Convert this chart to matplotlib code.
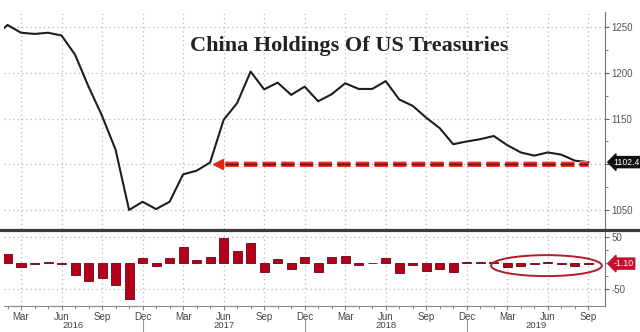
import numpy as np
import pandas as pd
import matplotlib
matplotlib.use("Agg")
import matplotlib.pyplot as plt
import matplotlib.transforms as mtransforms
import matplotlib.patheffects as pe
from matplotlib.lines import Line2D
from matplotlib.patches import Ellipse

# China holdings of US Treasuries, $bn, month-end, Jan 2016 .. Sep 2019
holdings = [1239,
            1252.5, 1244, 1242.7, 1244, 1241, 1220, 1185, 1153, 1116, 1050, 1059,
            1051, 1059, 1089, 1093, 1102, 1148.6, 1167, 1201.5, 1182, 1189.4, 1176, 1185,
            1169, 1176.7, 1188.7, 1182.5, 1182.5, 1191, 1171, 1164, 1151, 1139.6, 1122, 1125,
            1127.5, 1131, 1121, 1113, 1109.5, 1113, 1110.6, 1104, 1102.4]

# month-on-month change, $bn, Feb 2016 .. Sep 2019
change = [17, -7, -1.3, 1.3, -2, -22, -35, -28.6, -42, -68, 9.5,
          -5, 9.5, 31, 5, 11, 47.6, 22, 37.5, -18, 8, -12, 11,
          -16.5, 11, 13, -4.4, -0.5, 9.5, -19, -3, -14.7, -11.4, -17, 1,
          1, 1, -8, -6, -2, 1, -1, -5, -1.10]

months = pd.date_range("2016-02-01", "2019-09-01", freq="MS")
level_ref = 1100          # dashed reference level
arrow_from = 15.6         # arrow tip (month index)
last_level = holdings[-1]
last_change = change[-1]

level_ticks = [1050, 1100, 1150, 1200, 1250]
change_ticks = [-50, 50]

title = "China Holdings Of US Treasuries"
year_labels = ["2016", "2017", "2018", "2019"]

W, H = 640, 332
fig = plt.figure(figsize=(W / 100, H / 100), dpi=100)
fig.patch.set_facecolor("white")

def fx(px):
    return px / W

def fy(py):
    return 1 - py / H

left, right = 4, 604.5
ax1 = fig.add_axes([fx(left), fy(229), fx(right - left), fy(12) - fy(229)])
ax2 = fig.add_axes([fx(left), fy(305.5), fx(right - left), fy(231) - fy(305.5)])

x_h = np.arange(len(holdings)) - 1
x_c = np.arange(len(change))
xlim = (-0.26, 44.2)

major = [i for i, m in enumerate(months) if m.month in (3, 6, 9, 12)]
major_lbl = [months[i].strftime("%b") for i in major]
dec_pos = [i for i, m in enumerate(months) if m.month == 12]

grid_kw = dict(color="#b8b8b8", lw=0.9, ls=(0, (1, 2.5)))
tick_font = ["Liberation Sans Narrow", "Liberation Sans", "DejaVu Sans"]

for ax in (ax1, ax2):
    ax.set_xlim(*xlim)
    for s in ("left", "top"):
        ax.spines[s].set_visible(False)
    ax.spines["right"].set_color("#777777")
    ax.yaxis.tick_right()
    ax.set_xticks(major)
    ax.set_xticks(np.arange(len(months)), minor=True)
    ax.grid(True, which="major", **grid_kw)
    ax.set_axisbelow(True)
    ax.tick_params(axis="y", which="both", direction="out", colors="#666666",
                   labelcolor="#555555", labelsize=7, pad=2)
    ax.tick_params(axis="y", which="major", length=3)
    ax.tick_params(axis="y", which="minor", length=2)

# upper panel: level
ax1.plot(x_h, holdings, color="#1e1e1e", lw=1.5, zorder=3)
ax1.set_ylim(1029.2, 1266.7)
ax1.set_yticks(level_ticks)
# the 1100 label sits under the last-value tag
ax1.set_yticklabels(["" if v == level_ref else str(v) for v in level_ticks],
                    family=tick_font)
ax1.set_yticks(np.arange(1050, 1251, 25), minor=True)
ax1.spines["bottom"].set_visible(False)
ax1.tick_params(axis="x", which="both", bottom=False, labelbottom=False)

ax1.plot([arrow_from + 0.5, x_h[-1]], [level_ref, level_ref], color="#e02418",
         lw=3.4, dashes=(2.8, 1.15), solid_capstyle="butt", zorder=4,
         path_effects=[pe.Stroke(linewidth=4.0, foreground="#f29a8c"), pe.Normal()])
ax1.plot([arrow_from + 0.5, x_h[-1]], [level_ref, level_ref], color="#7a0a0a",
         lw=1.0, dashes=(9.5, 3.9), zorder=5)
ax1.plot([arrow_from], [level_ref], marker="<", ms=7, color="#e02418",
         mec="#e02418", zorder=5)

tag_kw = dict(xycoords=("axes fraction", "data"), xytext=(6.5, 0),
              textcoords="offset points", ha="left", va="center",
              color="white", size=6.3, family=tick_font, annotation_clip=False,
              zorder=10)
ax1.annotate(f"{last_level:.1f}", xy=(1.0, last_level),
             bbox=dict(boxstyle="larrow,pad=0.12", fc="#111111", ec="#111111"),
             **tag_kw)

# lower panel: monthly change
ax2.bar(x_c, change, width=0.67, color="#b3001b", edgecolor="#6e0010", lw=0.6, zorder=3)
ax2.set_ylim(-81, 61)
ax2.set_yticks(change_ticks)
ax2.set_yticklabels([str(v) for v in change_ticks], family=tick_font)
ax2.set_yticks([-25, 0, 25], minor=True)
ax2.spines["bottom"].set_color("#888888")
ax2.set_xticklabels(major_lbl, family=tick_font)
ax2.tick_params(axis="x", which="both", direction="out", colors="#888888",
                labelcolor="#444444", labelsize=7, pad=1.5)
ax2.tick_params(axis="x", which="major", length=3)
ax2.tick_params(axis="x", which="minor", length=2)

ax2.add_patch(Ellipse((39.9, -5), width=8.2, height=40, fill=False,
                      ec="#b01c2e", lw=1.4, zorder=6))

ax2.annotate(f"{last_change:.2f}", xy=(1.0, last_change),
             bbox=dict(boxstyle="larrow,pad=0.12", fc="#c8102e", ec="#c8102e"),
             **tag_kw)

# year labels and separators under the month axis
trans = mtransforms.blended_transform_factory(ax2.transData, ax2.transAxes)
bounds = [xlim[0]] + dec_pos + [xlim[1]]
for k, yr in enumerate(year_labels):
    ax2.text((bounds[k] + bounds[k + 1]) / 2, -0.265, yr, transform=trans,
             ha="center", va="center", size=6.8, color="#444444", family=tick_font)
for d in dec_pos:
    ax2.plot([d, d], [-0.2, -0.37], transform=trans, color="#999999",
             lw=0.8, clip_on=False)

# dark separator between the panels
fig.add_artist(Line2D([0, 1], [fy(229.8), fy(229.8)], transform=fig.transFigure,
                      color="#3a3a3a", lw=2.3))

fig.text(fx(349), fy(46.5), title, ha="center", va="center",
         family=["Liberation Serif", "DejaVu Serif"], weight="bold",
         size=16, color="#222222")

fig.savefig("out.png", dpi=100)
